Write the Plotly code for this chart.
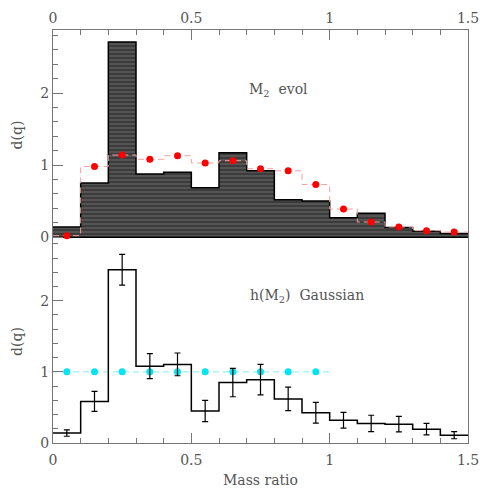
import plotly.graph_objects as go

# bin edges / centres for mass ratio q
edges = [0.0, 0.1, 0.2, 0.3, 0.4, 0.5, 0.6, 0.7, 0.8, 0.9, 1.0, 1.1, 1.2, 1.3, 1.4, 1.5]
centres = [0.05, 0.15, 0.25, 0.35, 0.45, 0.55, 0.65, 0.75, 0.85, 0.95, 1.05, 1.15, 1.25, 1.35, 1.45]

# top panel: M2 evol histogram (hatched) and model (red)
evol_hist = [0.14, 0.75, 2.71, 0.875, 0.90, 0.685, 1.17, 0.92, 0.52, 0.50, 0.27, 0.33, 0.135, 0.083, 0.05]
evol_model = [0.02, 0.98, 1.14, 1.08, 1.13, 1.03, 1.06, 0.95, 0.92, 0.73, 0.39, 0.21, 0.14, 0.09, 0.07]

# bottom panel: h(M2) Gaussian with errors, flat input (cyan)
gauss_hist = [0.14, 0.585, 2.435, 1.08, 1.105, 0.45, 0.85, 0.89, 0.62, 0.425, 0.32, 0.275, 0.265, 0.195, 0.11]
gauss_err = [0.045, 0.14, 0.215, 0.175, 0.16, 0.15, 0.2, 0.215, 0.165, 0.145, 0.11, 0.115, 0.11, 0.08, 0.05]
flat_x = [0.05, 0.15, 0.25, 0.35, 0.45, 0.55, 0.65, 0.75, 0.85, 0.95]
flat_y = [1, 1, 1, 1, 1, 1, 1, 1, 1, 1]
flat_line_x = [0.0, 1.0]
flat_line_y = [1, 1]

GREY = "#777777"
TXT = "#555555"
FONT = "DejaVu Serif"


def step(vals):
    # x/y for an hv step line over the bin edges
    return edges, vals + [vals[-1]]


fig = go.Figure()

# hatched histogram
fig.add_trace(go.Bar(
    x=centres, y=evol_hist, width=0.1, xaxis="x", yaxis="y",
    marker=dict(color="#3c3c3c", line=dict(width=0),
                pattern=dict(shape="-", fgcolor="#9a9a9a", size=4, solidity=0.25)),
))
sx, sy = step(evol_hist)
fig.add_trace(go.Scatter(x=sx, y=sy, mode="lines", line=dict(shape="hv", color="black", width=1.5),
                         xaxis="x", yaxis="y"))
fig.add_trace(go.Scatter(x=[0, 1.5], y=[0, 0], mode="lines", line=dict(color="black", width=1.5),
                         xaxis="x", yaxis="y"))
sx, sy = step(evol_model)
fig.add_trace(go.Scatter(x=sx, y=sy, mode="lines",
                         line=dict(shape="hv", color="#f4a0a0", width=1, dash="6px,4px"),
                         xaxis="x", yaxis="y"))
fig.add_trace(go.Scatter(x=centres, y=evol_model, mode="markers",
                         marker=dict(color="red", size=7), xaxis="x", yaxis="y"))

# bottom panel
fig.add_trace(go.Scatter(x=flat_line_x, y=flat_line_y, mode="lines",
                         line=dict(color="#7ff0f0", width=1, dash="6px,4px"),
                         xaxis="x2", yaxis="y2"))
fig.add_trace(go.Scatter(x=flat_x, y=flat_y, mode="markers",
                         marker=dict(color="#00e5f0", size=7), xaxis="x2", yaxis="y2"))
sx, sy = step(gauss_hist)
fig.add_trace(go.Scatter(x=sx, y=sy, mode="lines", line=dict(shape="hv", color="black", width=1.5),
                         xaxis="x2", yaxis="y2"))
fig.add_trace(go.Scatter(x=centres, y=gauss_hist, mode="markers", marker=dict(size=1, color="black"),
                         error_y=dict(type="data", array=gauss_err, color="black", thickness=1.2, width=3),
                         xaxis="x2", yaxis="y2"))

split = 0.4915
xcommon = dict(range=[0, 1.5], tickvals=[0, 0.5, 1, 1.5], ticktext=["0", "0.5", "1", "1.5"],
               ticks="inside", ticklen=10, tickcolor=GREY, showline=True, linecolor=GREY,
               showgrid=False, zeroline=False, automargin=False,
               minor=dict(dtick=0.1, ticks="inside", ticklen=5, tickcolor=GREY),
               tickfont=dict(family=FONT, size=14, color=TXT))
ycommon = dict(dtick=1, ticks="inside", ticklen=10, tickcolor=GREY, showline=True, linecolor=GREY,
               mirror=True, showgrid=False, zeroline=False, automargin=False,
               minor=dict(dtick=0.2, ticks="inside", ticklen=5, tickcolor=GREY),
               tickfont=dict(family=FONT, size=14, color=TXT),
               title=dict(text="d(q)", font=dict(family=FONT, size=14, color=TXT), standoff=14))

# page body adds an 8px margin, so the figure is 8px smaller and shifted
fig.update_layout(
    width=483, height=484,
    margin=dict(l=45, r=23, t=22, b=49),
    plot_bgcolor="white", paper_bgcolor="white",
    showlegend=False, bargap=0,
    xaxis=dict(xcommon, anchor="y", side="top", domain=[0, 1]),
    yaxis=dict(ycommon, anchor="x", range=[-0.04, 2.875], domain=[split, 1]),
    xaxis2=dict(xcommon, anchor="y2", side="bottom", domain=[0, 1], ticklabelstandoff=4,
                title=dict(text="Mass ratio", font=dict(family=FONT, size=14, color=TXT), standoff=8)),
    yaxis2=dict(ycommon, anchor="x2", range=[0, 2.853], domain=[0, split]),
    annotations=[
        dict(x=0.70, y=2.04, xref="x", yref="y", text="M<sub>2</sub>  evol", showarrow=False,
             xanchor="left", font=dict(family=FONT, size=14, color=TXT)),
        dict(x=0.705, y=2.06, xref="x2", yref="y2", text="h(M<sub>2</sub>)  Gaussian", showarrow=False,
             xanchor="left", font=dict(family=FONT, size=14, color=TXT)),
    ],
)

fig.write_html("out.html")
